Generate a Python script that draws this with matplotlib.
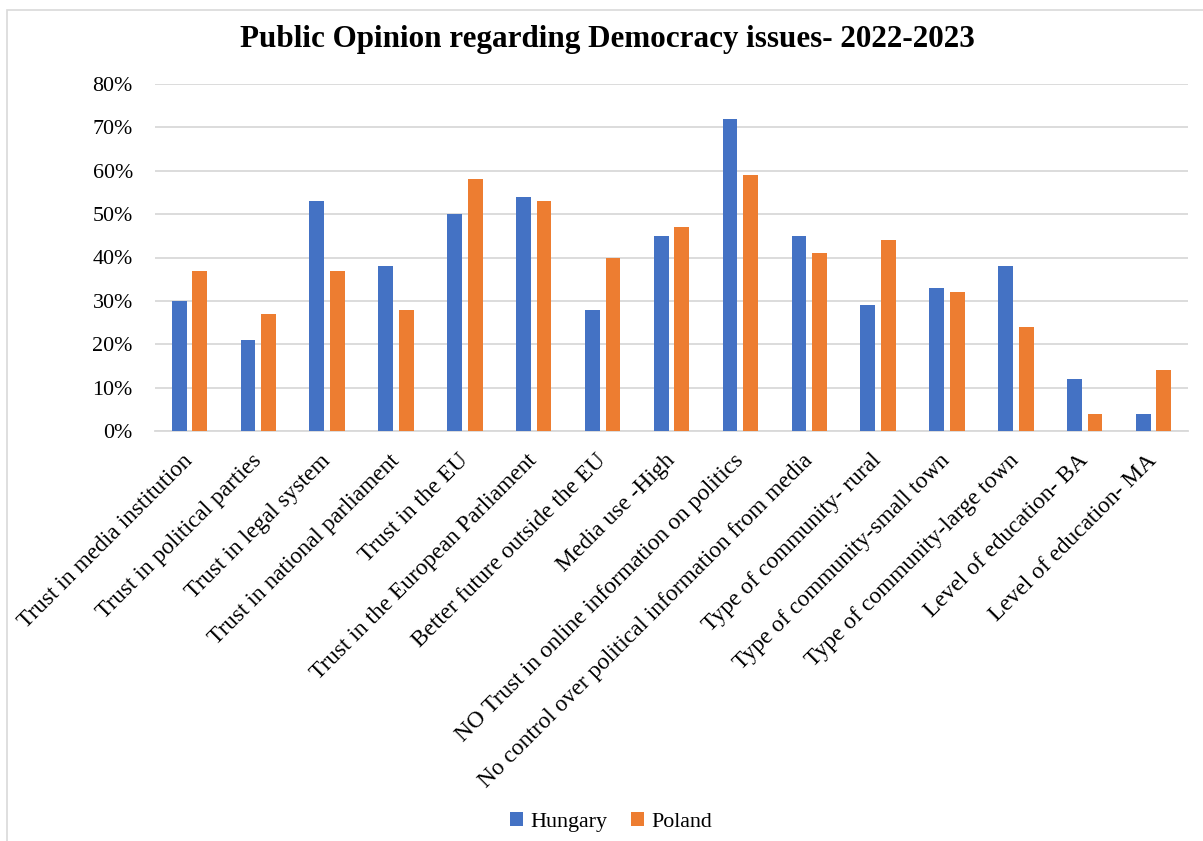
import matplotlib
matplotlib.use("Agg")
import matplotlib.pyplot as plt
from matplotlib.patches import Rectangle
from matplotlib.ticker import PercentFormatter
import numpy as np

categories = [
    "Trust in media institution",
    "Trust in political parties",
    "Trust in legal system",
    "Trust in national parliament",
    "Trust in the EU",
    "Trust in the European Parliament",
    "Better future outside the EU",
    "Media use -High",
    "NO Trust in online information on politics",
    "No control over political information from media",
    "Type of community- rural",
    "Type of community-small town",
    "Type of community-large town",
    "Level of education- BA",
    "Level of education- MA",
]
hungary = [30, 21, 53, 38, 50, 54, 28, 45, 72, 45, 29, 33, 38, 12, 4]
poland = [37, 27, 37, 28, 58, 53, 40, 47, 59, 41, 44, 32, 24, 4, 14]
y_ticks = [0, 10, 20, 30, 40, 50, 60, 70, 80]

title = "Public Opinion regarding Democracy issues- 2022-2023"
series_names = ["Hungary", "Poland"]
colors = ["#4472C4", "#ED7D31"]

plt.rcParams["font.family"] = ["Liberation Serif", "DejaVu Serif"]

W, H = 1203, 841
fig = plt.figure(figsize=(W / 100, H / 100), dpi=100)

# chart area border (light grey, running off the right and bottom edges)
fig.patches.append(Rectangle((7 / W, 0 - 0.01), 1.2, 1 - 10 / H + 0.01,
                             transform=fig.transFigure, fill=False,
                             edgecolor="#D9D9D9", linewidth=1.2))

ax = fig.add_axes([155 / W, 1 - 431 / H, (1188 - 155) / W, (431 - 84) / H])

x = np.arange(len(categories))
bw = 0.215
ax.bar(x - 0.15, hungary, width=bw, color=colors[0], label=series_names[0], zorder=3)
ax.bar(x + 0.15, poland, width=bw, color=colors[1], label=series_names[1], zorder=3)

ax.set_xlim(-0.5, len(categories) - 0.5)
ax.set_ylim(0, 80)
ax.set_yticks(y_ticks)
ax.yaxis.set_major_formatter(PercentFormatter(decimals=0))
ax.grid(axis="y", color="#D9D9D9", linewidth=1.3, zorder=0)
ax.set_axisbelow(True)
for s in ["top", "right", "left"]:
    ax.spines[s].set_visible(False)
ax.spines["bottom"].set_color("#D9D9D9")
ax.spines["bottom"].set_linewidth(1.3)
ax.tick_params(axis="both", length=0, colors="#000000")
ax.tick_params(axis="y", pad=16, labelsize=15.8)

ax.set_xticks(x)
ax.set_xticklabels(categories, rotation=45, ha="right", va="center",
                   rotation_mode="anchor")
ax.tick_params(axis="x", pad=19, labelsize=16.8)

fig.text(607 / W, 1 - 40 / H, title, ha="center", va="center",
         fontsize=22.4, fontweight="bold")

leg = fig.legend(loc="center", bbox_to_anchor=(611 / W, 1 - 822 / H),
                 ncol=2, frameon=False, fontsize=15.8, handlelength=0.6,
                 handleheight=0.6, handletextpad=0.3, columnspacing=1.1)

fig.savefig("out.png", dpi=100, facecolor="white")
